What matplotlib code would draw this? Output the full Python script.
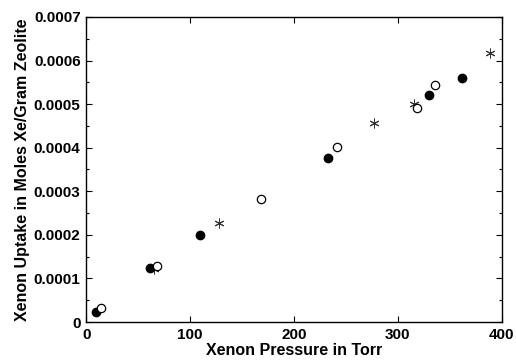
import matplotlib
matplotlib.use("Agg")
import matplotlib.pyplot as plt
from matplotlib.ticker import MultipleLocator, FuncFormatter

plt.rcParams['font.family'] = ['Liberation Sans', 'DejaVu Sans']

filled_x = [9.5, 61, 109.5, 233, 330, 362]
filled_y = [0.000024, 0.000123, 0.000200, 0.000377, 0.000521, 0.000560]
open_x = [14, 68, 168, 241.5, 318.5, 336]
open_y = [0.000033, 0.000128, 0.000283, 0.000401, 0.000492, 0.000543]
star_x = [65, 128, 277.6, 316, 388.7]
star_y = [0.000121, 0.000228, 0.000457, 0.000501, 0.000618]

xlabel = "Xenon Pressure in Torr"
ylabel = "Xenon Uptake in Moles Xe/Gram Zeolite"

fig = plt.figure(figsize=(5.16, 3.61), dpi=100)
ax = fig.add_axes([0.167, 0.108, 0.805, 0.845])

ax.plot(star_x, star_y, linestyle='none', marker=(6, 2, 0), markersize=7,
        markeredgewidth=0.7, color='#333333')
ax.plot(filled_x, filled_y, linestyle='none', marker='o', markersize=6,
        color='black')
ax.plot(open_x, open_y, linestyle='none', marker='o', markersize=6,
        markerfacecolor='white', markeredgecolor='black', markeredgewidth=0.9)

ax.set_xlim(0, 400)
ax.set_ylim(0, 0.0007)
ax.xaxis.set_major_locator(MultipleLocator(100))
ax.yaxis.set_major_locator(MultipleLocator(0.0001))
ax.yaxis.set_minor_locator(MultipleLocator(0.00005))

def yfmt(v, pos):
    if abs(v) < 1e-12:
        return "0"
    return f"{v:.4f}"

ax.yaxis.set_major_formatter(FuncFormatter(yfmt))
ax.tick_params(which='both', direction='in', top=True, right=True,
               labelsize=11, width=0.8)
ax.tick_params(which='major', length=4, pad=4)
ax.tick_params(which='minor', length=2.5)
for lab in ax.get_xticklabels() + ax.get_yticklabels():
    lab.set_fontweight('bold')
for s in ax.spines.values():
    s.set_linewidth(1.0)

ax.set_xlabel(xlabel, fontsize=11.5, fontweight='bold', labelpad=1)
ax.set_ylabel(ylabel, fontsize=11.5, fontweight='bold', labelpad=3)

fig.savefig("out.png", dpi=100)
